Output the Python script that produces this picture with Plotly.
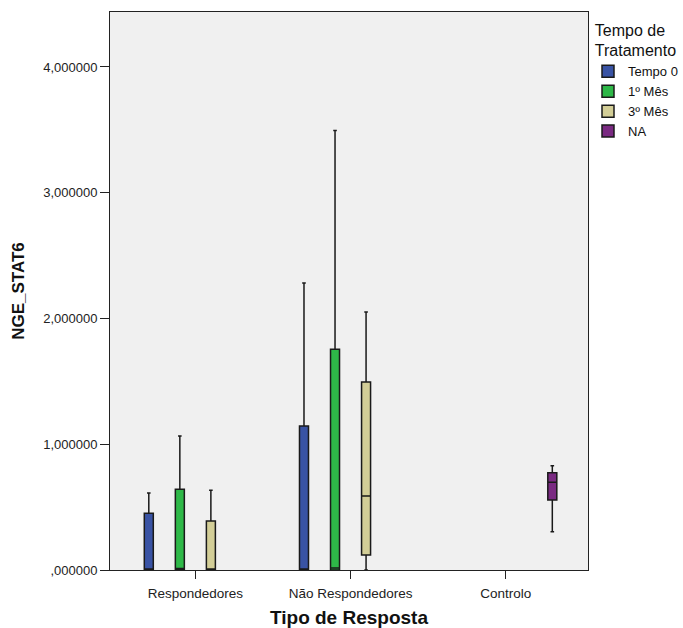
import plotly.graph_objects as go

categories = ["Respondedores", "Não Respondedores", "Controlo"]
series_names = ["Tempo 0", "1º Mês", "3º Mês", "NA"]
series_colors = ["#3953a4", "#2eb848", "#d3ce97", "#7a2a82"]

# precomputed box statistics per series
x_vals = [
    ["Respondedores", "Não Respondedores"],
    ["Respondedores", "Não Respondedores"],
    ["Respondedores", "Não Respondedores"],
    ["Controlo"],
]
lower_fence = [[0.0, 0.0], [0.0, 0.0], [0.0, 0.0], [0.305]]
q1_vals = [[0.0, 0.0], [0.0, 0.0], [0.0, 0.119], [0.557]]
median_vals = [[0.005, 0.005], [0.012, 0.015], [0.005, 0.588], [0.697]]
q3_vals = [[0.451, 1.145], [0.642, 1.755], [0.390, 1.495], [0.774]]
upper_fence = [[0.612, 2.282], [1.066, 3.494], [0.634, 2.052], [0.829]]

y_tick_vals = [0, 1, 2, 3, 4]
y_tick_text = [",000000", "1,000000", "2,000000", "3,000000", "4,000000"]

fig = go.Figure()
for i, name in enumerate(series_names):
    fig.add_trace(go.Box(
        name=name,
        x=x_vals[i],
        lowerfence=lower_fence[i],
        q1=q1_vals[i],
        median=median_vals[i],
        q3=q3_vals[i],
        upperfence=upper_fence[i],
        fillcolor=series_colors[i],
        line=dict(color="#1a1a1a", width=1.5),
        whiskerwidth=0.4,
        boxpoints=False,
        hoverinfo="skip",
    ))

fig.update_layout(
    width=683, height=628,
    margin=dict(l=110, r=95, t=12, b=58, autoexpand=False),
    paper_bgcolor="white",
    plot_bgcolor="#f0f0f0",
    boxmode="group",
    boxgap=0.2,
    boxgroupgap=0.71,
    font=dict(family="Liberation Sans, Arial, sans-serif", size=13, color="#222"),
    showlegend=True,
    legend=dict(
        x=1.0, y=0.995, xanchor="left", yanchor="top",
        title=dict(text="Tempo de<br>Tratamento", side="top center",
                   font=dict(size=16, color="#111")),
        font=dict(size=13, color="#111"),
        tracegroupgap=0, itemwidth=30,
        bgcolor="rgba(0,0,0,0)",
    ),
    xaxis=dict(
        type="category",
        categoryorder="array", categoryarray=categories,
        range=[-0.55, 2.53],
        showline=True, mirror=True, linecolor="#222", linewidth=1,
        ticks="outside", ticklen=8, tickcolor="#222",
        tickfont=dict(size=13.5),
        ticklabelstandoff=3,
        showgrid=False, zeroline=False,
        title=dict(text="<b>Tipo de Resposta</b>", font=dict(size=19, color="#111"), standoff=18),
    ),
    yaxis=dict(
        range=[0, 4.437],
        tickvals=y_tick_vals, ticktext=y_tick_text,
        showline=True, mirror=True, linecolor="#222", linewidth=1,
        ticks="outside", ticklen=9, tickcolor="#222",
        tickfont=dict(size=13),
        ticklabelstandoff=0,
        showgrid=False, zeroline=False,
        title=dict(text="<b>NGE_STAT6</b>", font=dict(size=17, color="#111"), standoff=14),
    ),
)

fig.write_html("out.html")
